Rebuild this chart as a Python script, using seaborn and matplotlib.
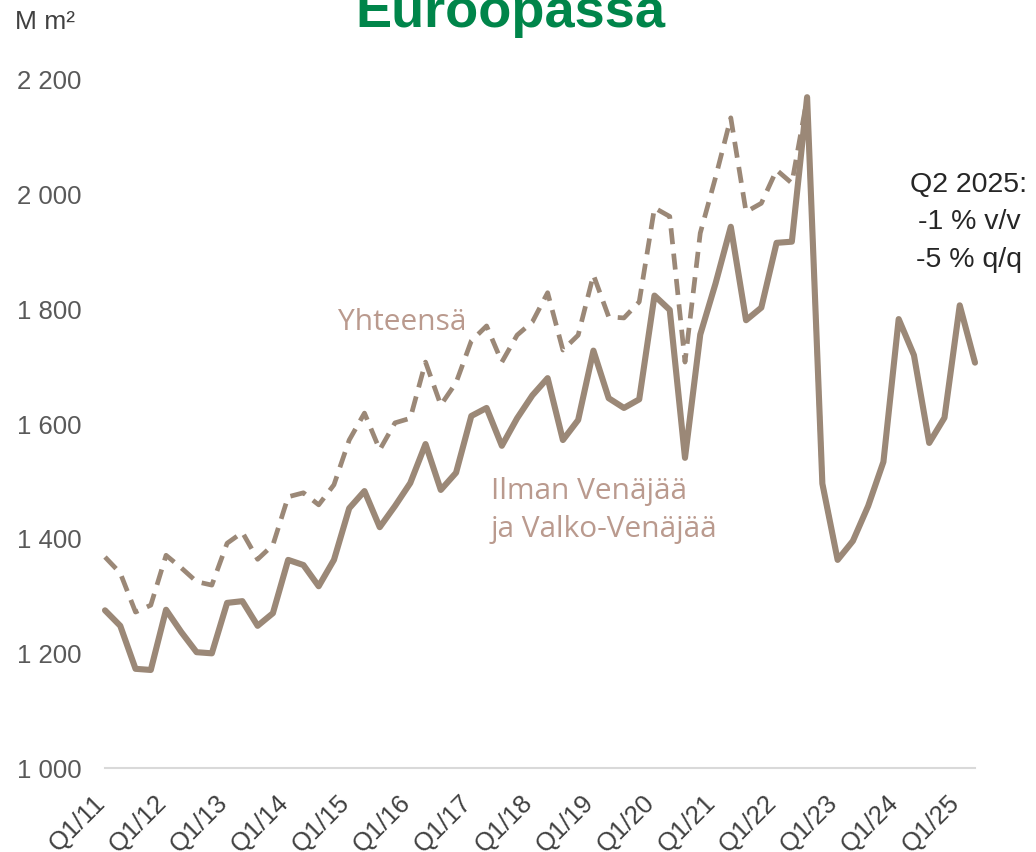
import matplotlib
matplotlib.use("Agg")
import matplotlib.pyplot as plt
import matplotlib.transforms as mtransforms
import seaborn as sns
import pandas as pd
import numpy as np

# Quarters Q1/11 .. Q2/25
quarters = [f"Q{q}/{y:02d}" for y in range(11, 26) for q in range(1, 5)][:58]

# Without Russia and Belarus (solid line)
ilman = [1275, 1248, 1173, 1171, 1276, 1237, 1202, 1200,
         1288, 1291, 1248, 1270, 1363, 1354, 1317, 1363,
         1453, 1483, 1420, 1457, 1497, 1565, 1485, 1515,
         1614, 1628, 1562, 1610, 1650, 1680, 1572, 1607,
         1728, 1645, 1628, 1643, 1824, 1799, 1541, 1756,
         1845, 1944, 1781, 1803, 1916, 1918, 2170, 1496,
         1363, 1396, 1457, 1534, 1783, 1720, 1567, 1611,
         1807, 1707]

# Total (dashed line), ends at Q1/23
yhteensa = [1368, 1340, 1272, 1284, 1371, 1349, 1325, 1319,
            1392, 1411, 1364, 1389, 1473, 1480, 1459, 1494,
            1572, 1619, 1555, 1602, 1610, 1708, 1633, 1672,
            1745, 1771, 1708, 1755, 1778, 1829, 1729, 1755,
            1860, 1787, 1785, 1813, 1977, 1962, 1708, 1933,
            2030, 2134, 1970, 1985, 2043, 2020, 2168, 1496,
            1363]

tick_labels = [q for q in quarters if q.startswith("Q1")]
y_ticks = [1000, 1200, 1400, 1600, 1800, 2000, 2200]

line_color = "#9B8877"
label_color = "#BA9A8E"

df = pd.DataFrame({
    "idx": np.arange(len(quarters)),
    "ilman": ilman,
    "yhteensa": yhteensa + [np.nan] * (len(quarters) - len(yhteensa)),
})

sns.set_theme(style="white")
plt.rcParams["font.family"] = ["Liberation Sans", "DejaVu Sans"]

fig = plt.figure(figsize=(10.36, 8.52), dpi=100)
ax = fig.add_axes([105 / 1036, 1 - 768 / 852, (975 - 105) / 1036, (768 - 80) / 852])

sns.lineplot(data=df.dropna(), x="idx", y="yhteensa", ax=ax, color=line_color,
             linewidth=3.4, linestyle=(0, (3.4, 2.0)), clip_on=False)
sns.lineplot(data=df, x="idx", y="ilman", ax=ax, color=line_color,
             linewidth=4.4, clip_on=False)

ax.set_xlim(0, len(quarters) - 1)
ax.set_ylim(1000, 2200)
ax.tick_params(axis="y", length=0, pad=17)
ax.tick_params(axis="x", length=0, pad=6)
ax.set_yticks(y_ticks)
ax.set_yticklabels([f"{v:,}".replace(",", " ") for v in y_ticks],
                   fontsize=18.5, color="#595959")
ax.set_xticks([quarters.index(t) for t in tick_labels])
ax.set_xticklabels(tick_labels, fontsize=18.5, color="#404040",
                   rotation=45, ha="right", va="top", rotation_mode="anchor")
# nudge the rotated labels a little left and down
offset = mtransforms.ScaledTranslation(-12 / 100, -14 / 100, fig.dpi_scale_trans)
for lbl in ax.get_xticklabels():
    lbl.set_transform(lbl.get_transform() + offset)
ax.set_xlabel("")
ax.set_ylabel("")
ax.grid(False)
for side in ["top", "right", "left"]:
    ax.spines[side].set_visible(False)
ax.spines["bottom"].set_color("#D9D9D9")
ax.spines["bottom"].set_linewidth(1.5)

# Title (partly cut at the top in the original)
fig.text(510 / 1036, 1 - 27 / 852, "Euroopassa", fontsize=39, color="#00854A",
         ha="center", va="baseline", fontweight="bold")
fig.text(15 / 1036, 1 - 22 / 852, "M m²", fontsize=19, color="#404040",
         ha="left", va="center")

# Series labels
label_font = ["Open Sans", "DejaVu Sans"]
fig.text(338 / 1036, 1 - 322 / 852, "Yhteensä", fontsize=21.5, color=label_color,
         ha="left", va="center", family=label_font)
fig.text(491 / 1036, 1 - 492 / 852, "Ilman Venäjää", fontsize=21.5,
         color=label_color, ha="left", va="center", family=label_font)
fig.text(491 / 1036, 1 - 530 / 852, "ja Valko-Venäjää", fontsize=21.5,
         color=label_color, ha="left", va="center", family=label_font)

for txt, ypx in zip(["Q2 2025:", "-1 % v/v", "-5 % q/q"], [185, 222, 260]):
    fig.text(969 / 1036, 1 - ypx / 852, txt, fontsize=20.5, color="#262626",
             ha="center", va="center")

fig.savefig("out.png", dpi=100)
